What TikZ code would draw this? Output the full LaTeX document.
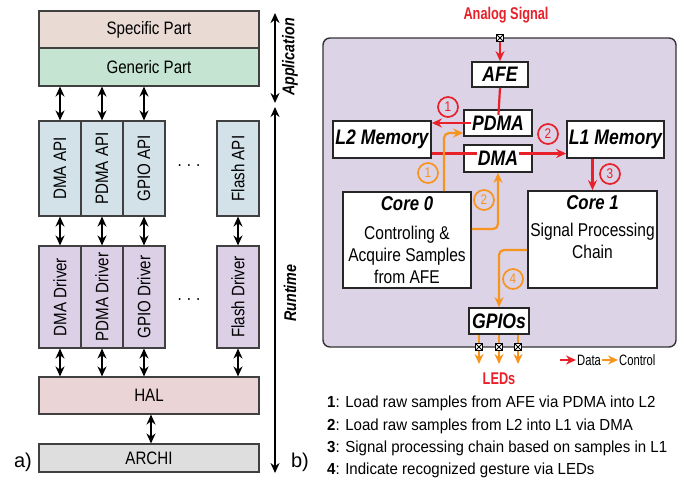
\documentclass[tikz,border=0pt]{standalone}
\usepackage{fontspec}
\setmainfont{Liberation Sans}
\newfontfamily\nsf[FakeStretch=0.84]{Liberation Sans}
\newfontfamily\csf[FakeStretch=0.75]{Liberation Sans}
\newfontfamily\lsf[FakeStretch=0.94]{Liberation Sans}
\usetikzlibrary{arrows.meta}
\usetikzlibrary{positioning}
\definecolor{specc}{HTML}{E9DAD3}
\definecolor{genc}{HTML}{C5E5D2}
\definecolor{apic}{HTML}{D3E1E8}
\definecolor{drvc}{HTML}{DCD0E6}
\definecolor{halc}{HTML}{EBD4D6}
\definecolor{archic}{HTML}{DEDEDE}
\definecolor{socc}{HTML}{DCD3E6}
\definecolor{datac}{HTML}{E8202A}
\definecolor{ctrlc}{HTML}{F7941D}
\newcommand{\fsz}[2]{\fontsize{#1}{#2}\selectfont}

\begin{document}
\begin{tikzpicture}[x=1pt, y=-1pt,
  layer/.style={draw=black!75, line width=1.1pt, minimum width=220, minimum height=37, inner sep=0pt, font=\nsf\fsz{18}{20}},
  api/.style={layer, fill=apic, minimum width=42, minimum height=95},
  drv/.style={layer, fill=drvc, minimum width=42, minimum height=102},
  dbl/.style={{Stealth[length=10pt,width=9pt]}-{Stealth[length=10pt,width=9pt]}, line width=2.2pt},
  blk/.style={draw=black!85, fill=white, line width=1.7pt, inner sep=1pt, font=\nsf\bfseries\itshape\fsz{21}{21}},
  lbl/.style={fill=white, inner sep=1pt, font=\nsf\bfseries\itshape\fsz{21}{21}},
  coretxt/.style={align=center, anchor=north, inner sep=0pt, font=\nsf\fsz{18.5}{22}},
  data/.style={draw=datac, line width=2.2pt, -{Stealth[length=10pt,width=9pt]}},
  ctrl/.style={draw=ctrlc, line width=2.2pt, -{Stealth[length=10pt,width=9pt]}, rounded corners=5},
  num/.style={circle, draw, line width=1.7pt, minimum size=20, inner sep=0pt, font=\nsf\fsz{14}{14}},
  port/.style={draw=black, fill=white, minimum size=7, inner sep=0pt, line width=0.9pt,
    path picture={\draw[line width=0.8pt] (path picture bounding box.north west) -- (path picture bounding box.south east)
      (path picture bounding box.north east) -- (path picture bounding box.south west);}},
  side/.style={rotate=90, font=\nsf\bfseries\itshape\fsz{17}{17}},
  note/.style={anchor=west, inner sep=0pt, font=\lsf\fsz{16}{16}}
]
  \useasboundingbox (0,0) rectangle (684,485);

  % a) software stack
  \node[layer, fill=specc] (spec) at (149,29.5) {Specific Part};
  \node[layer, fill=genc, minimum height=38] (gen) at (149,67) {Generic Part};

  \node[api] (apidma)   at (60,168.5)  {\rotatebox{90}{DMA API}};
  \node[api] (apipdma)  at (102,168.5) {\rotatebox{90}{PDMA API}};
  \node[api] (apigpio)  at (144,168.5) {\rotatebox{90}{GPIO API}};
  \node[api] (apiflash) at (238,168.5) {\rotatebox{90}{Flash API}};
  \node[font=\nsf\fsz{18}{20}] (apidots) at (189,166) {.\hspace{5pt}.\hspace{5pt}.};

  \node[drv] (drvdma)   at (60,297)  {\rotatebox{90}{DMA Driver}};
  \node[drv] (drvpdma)  at (102,297) {\rotatebox{90}{PDMA Driver}};
  \node[drv] (drvgpio)  at (144,297) {\rotatebox{90}{GPIO Driver}};
  \node[drv] (drvflash) at (238,297) {\rotatebox{90}{Flash Driver}};
  \node[font=\nsf\fsz{18}{20}] (drvdots) at (189,300) {.\hspace{5pt}.\hspace{5pt}.};

  \node[layer, fill=halc] (hal) at (149,395.5) {HAL};
  \node[layer, fill=archic, minimum height=28] (archi) at (149,458) {ARCHI};

  \foreach \n in {dma,pdma,gpio}
    \draw[dbl] (api\n.north |- gen.south) -- (api\n.north);
  \foreach \n in {dma,pdma,gpio,flash} {
    \draw[dbl] (api\n.south) -- (drv\n.north);
    \draw[dbl] (drv\n.south) -- (drv\n.south |- hal.north);
  }
  \draw[dbl] ([xshift=2]hal.south) -- ([xshift=2]archi.north);

  \coordinate (apptop) at (275,13);
  \coordinate (appbot) at (275,103);
  \coordinate (runtop) at (275,107);
  \coordinate (runbot) at (275,473);
  \draw[dbl, line width=1.6pt] (apptop) -- (appbot);
  \draw[dbl, line width=1.6pt] (runtop) -- (runbot);
  \node[side] (applbl) at (290,57) {Application};
  \node[side] (runlbl) at (290,293) {Runtime};

  \node[font=\fsz{20}{20}] (capa) at (23,462) {a)};
  \node[font=\fsz{20}{20}] (capb) at (300,462) {b)};

  % b) application flow
  \node[draw=black!80, fill=socc, rounded corners=7, line width=1.4pt, minimum width=353, minimum height=309] (soc) at (499.5,192.5) {};

  \node[blk, minimum width=56, minimum height=25] (afe) at (500,74.5) {AFE};
  \node[blk, minimum width=68, minimum height=26] (pdma) at (498,123) {};
  \node[blk, minimum width=68, minimum height=27] (dma) at (498,158.5) {};
  \node[blk, minimum width=98, minimum height=37] (l2) at (382,139.5) {L2 Memory};
  \node[blk, minimum width=97, minimum height=37] (l1) at (615.5,139.5) {L1 Memory};
  \node[blk, minimum width=128, minimum height=96] (core0) at (407,240) {};
  \node[blk, minimum width=129, minimum height=97] (core1) at (592.5,239.5) {};
  \node[blk, minimum width=60, minimum height=26] (gpios) at (499,321) {GPIOs};

  \node[coretxt] (core0txt) at ([yshift=-5]core0.north)
    {{\bfseries\itshape\fsz{20}{22}Core 0}\\[7pt]Controling \&\\Acquire Samples\\from AFE};
  \node[coretxt] (core1txt) at ([yshift=-5]core1.north)
    {{\bfseries\itshape\fsz{20}{22}Core 1}\\[5pt]Signal Processing\\Chain};

  \node[font=\csf\bfseries\fsz{17}{17}, text=datac] (ana) at (506,15) {Analog Signal};
  \node[port] (ain) at (500,38) {};
  \draw[data] (ain) -- (afe.north);

  \coordinate (dmaline) at ([yshift=5]dma.center);
  \draw[data, -] (afe.south) -- (pdma.center);
  \draw[data] (pdma.center) -- (pdma.center -| l2.east);
  \draw[data] (dmaline -| l2.east) -- (dmaline -| l1.west);
  \draw[data] (core1.north |- l1.south) -- (core1.north);
  \node[lbl] (pdmalbl) at (pdma) {PDMA};
  \node[lbl] (dmalbl) at (dma) {DMA};

  \draw[ctrl] ([xshift=37]core0.north) |- ([yshift=-10]pdma.west);
  \draw[ctrl] ([yshift=11]core0.east) -| (dma.south);
  \draw[ctrl] ([yshift=-10.5]core1.west) -| (gpios.north);

  \node[num, datac] (d1) at (448,107) {1};
  \node[num, datac] (d2) at (548,134) {2};
  \node[num, datac] (d3) at (610,174) {3};
  \node[num, ctrlc] (c1) at (428,173) {1};
  \node[num, ctrlc] (c2) at (484,200) {2};
  \node[num, ctrlc] (c4) at (513,279) {4};

  \node[font=\csf\bfseries\fsz{17}{17}, text=datac] (leds) at (499,379) {LEDs};
  \coordinate (ledtop) at (499,364);
  \foreach \x [count=\i] in {479,499,518}
    \coordinate (g\i) at (\x,347);
  \foreach \i in {1,2,3} {
    \draw[ctrl] (gpios.south -| g\i) -- (g\i |- ledtop);
    \node[port] (gport\i) at (g\i) {};
  }

  \coordinate (dst) at (560,360);
  \node[anchor=west, inner sep=1pt, font=\csf\fsz{15}{15}] (dtxt) at (576,360) {Data};
  \node[anchor=west, inner sep=1pt, font=\csf\fsz{15}{15}] (ctxt) at (618,360) {Control};
  \draw[data] (dst) -- (dtxt.west);
  \draw[ctrl] (dtxt.east) -- (ctxt.west);

  \node[note] (note1) at (327,403) {\textbf{1}: Load raw samples from AFE via PDMA into L2};
  \node[note] (note2) at (327,426) {\textbf{2}: Load raw samples from L2 into L1 via DMA};
  \node[note] (note3) at (327,448) {\textbf{3}: Signal processing chain based on samples in L1};
  \node[note] (note4) at (327,470) {\textbf{4}: Indicate recognized gesture via LEDs};
\end{tikzpicture}
\end{document}
